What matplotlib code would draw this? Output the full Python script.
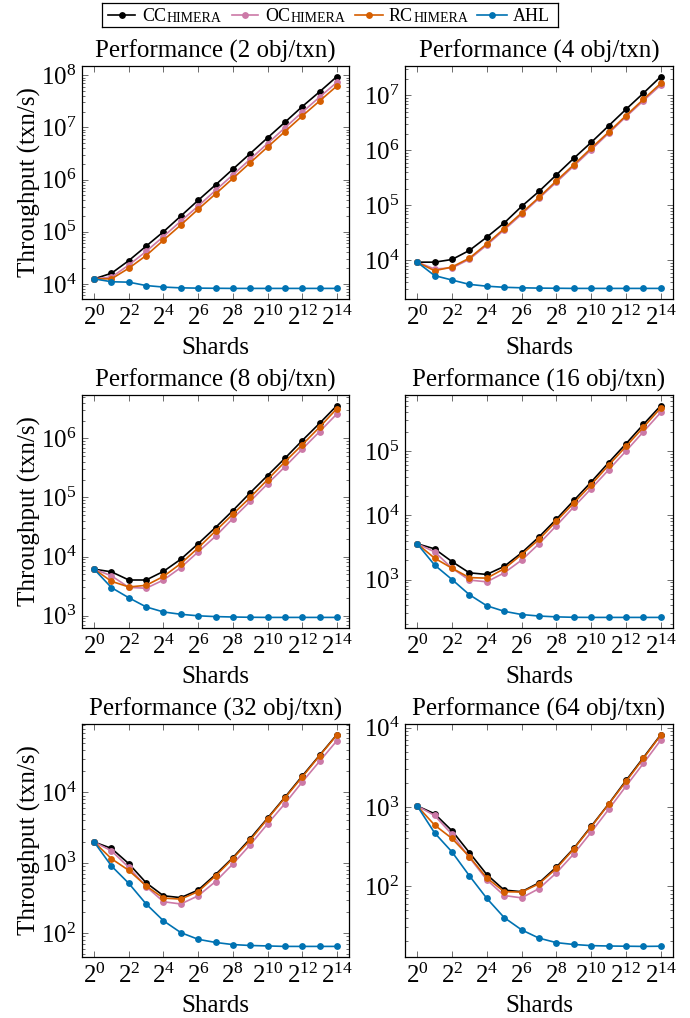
import numpy as np
import matplotlib
matplotlib.use("Agg")
import matplotlib.pyplot as plt
from matplotlib.ticker import FixedLocator, LogLocator, NullFormatter, FuncFormatter, NullLocator

plt.rcParams['font.family'] = ['Liberation Serif', 'DejaVu Serif']
plt.rcParams['mathtext.fontset'] = 'stix'

# ---------------- data ----------------
shard_exponents = list(range(15))
shards = [2 ** e for e in shard_exponents]
objs_per_txn = [2, 4, 8, 16, 32, 64]
series_names = ['CChimera', 'OChimera', 'RChimera', 'AHL']
series_colors = ['#000000', '#CC79A7', '#D55E00', '#0072B2']

cchimera_2 = [1.25e4, 1.6e4, 2.8e4, 5.3e4, 1.0e5, 2.0e5, 4.0e5, 7.9e5, 1.58e6, 3.15e6, 6.3e6, 1.25e7, 2.5e7, 4.8e7, 9.4e7]
ochimera_2 = [1.25e4, 1.35e4, 2.3e4, 4.2e4, 8.1e4, 1.6e5, 3.1e5, 6.2e5, 1.23e6, 2.45e6, 4.9e6, 9.8e6, 1.95e7, 3.8e7, 7.3e7]
rchimera_2 = [1.25e4, 1.25e4, 2.0e4, 3.5e4, 6.9e4, 1.35e5, 2.7e5, 5.3e5, 1.05e6, 2.1e6, 4.2e6, 8.3e6, 1.65e7, 3.2e7, 6.2e7]
ahl_2 = [1.25e4, 1.1e4, 1.08e4, 9.3e3, 8.7e3, 8.4e3, 8.3e3, 8.25e3, 8.2e3, 8.2e3, 8.2e3, 8.2e3, 8.2e3, 8.2e3, 8.2e3]

cchimera_4 = [9.3e3, 9.3e3, 1.04e4, 1.52e4, 2.65e4, 4.8e4, 9.6e4, 1.8e5, 3.6e5, 7.2e5, 1.4e6, 2.8e6, 5.6e6, 1.1e7, 2.2e7]
ochimera_4 = [9.3e3, 7.0e3, 7.3e3, 1.05e4, 1.9e4, 3.6e4, 6.9e4, 1.35e5, 2.65e5, 5.2e5, 1.03e6, 2.05e6, 4.1e6, 8.0e6, 1.55e7]
rchimera_4 = [9.3e3, 6.5e3, 7.6e3, 1.1e4, 2.0e4, 3.8e4, 7.3e4, 1.4e5, 2.8e5, 5.5e5, 1.1e6, 2.15e6, 4.3e6, 8.5e6, 1.66e7]
ahl_4 = [9.3e3, 5.3e3, 4.4e3, 3.67e3, 3.4e3, 3.25e3, 3.18e3, 3.14e3, 3.12e3, 3.1e3, 3.1e3, 3.1e3, 3.1e3, 3.1e3, 3.1e3]

cchimera_8 = [6.1e3, 5.5e3, 4.0e3, 4.0e3, 5.6e3, 9.0e3, 1.65e4, 3.1e4, 6.0e4, 1.2e5, 2.35e5, 4.6e5, 9.2e5, 1.8e6, 3.6e6]
ochimera_8 = [6.1e3, 4.7e3, 3.0e3, 2.9e3, 4.0e3, 6.5e3, 1.2e4, 2.2e4, 4.4e4, 8.6e4, 1.7e5, 3.3e5, 6.6e5, 1.3e6, 2.6e6]
rchimera_8 = [6.1e3, 3.8e3, 3.05e3, 3.25e3, 4.6e3, 7.6e3, 1.4e4, 2.7e4, 5.2e4, 1.0e5, 2.0e5, 4.0e5, 7.8e5, 1.55e6, 3.2e6]
ahl_8 = [6.1e3, 2.97e3, 2.0e3, 1.4e3, 1.15e3, 1.05e3, 9.9e2, 9.6e2, 9.45e2, 9.35e2, 9.3e2, 9.3e2, 9.3e2, 9.3e2, 9.3e2]

cchimera_16 = [3.6e3, 3.0e3, 1.9e3, 1.27e3, 1.2e3, 1.6e3, 2.6e3, 4.6e3, 8.7e3, 1.7e4, 3.3e4, 6.6e4, 1.3e5, 2.6e5, 5.1e5]
ochimera_16 = [3.6e3, 2.7e3, 1.5e3, 9.8e2, 9.2e2, 1.27e3, 2.0e3, 3.6e3, 6.9e3, 1.35e4, 2.6e4, 5.1e4, 1.0e5, 2.0e5, 4.0e5]
rchimera_16 = [3.6e3, 2.15e3, 1.5e3, 1.07e3, 1.05e3, 1.47e3, 2.45e3, 4.2e3, 8.1e3, 1.55e4, 3.0e4, 6.0e4, 1.18e5, 2.35e5, 4.7e5]
ahl_16 = [3.6e3, 1.68e3, 1.0e3, 5.8e2, 3.9e2, 3.2e2, 2.85e2, 2.7e2, 2.62e2, 2.58e2, 2.57e2, 2.57e2, 2.57e2, 2.57e2, 2.57e2]

cchimera_32 = [1.97e3, 1.6e3, 9.7e2, 5.2e2, 3.4e2, 3.2e2, 4.1e2, 6.8e2, 1.18e3, 2.2e3, 4.3e3, 8.5e3, 1.7e4, 3.35e4, 6.6e4]
ochimera_32 = [1.97e3, 1.48e3, 8.6e2, 4.6e2, 2.8e2, 2.6e2, 3.4e2, 5.4e2, 9.6e2, 1.8e3, 3.55e3, 6.9e3, 1.4e4, 2.75e4, 5.4e4]
rchimera_32 = [1.97e3, 1.14e3, 7.8e2, 4.7e2, 3.15e2, 3.05e2, 3.9e2, 6.5e2, 1.15e3, 2.1e3, 4.2e3, 8.3e3, 1.65e4, 3.3e4, 6.5e4]
ahl_32 = [1.97e3, 9.0e2, 5.1e2, 2.6e2, 1.5e2, 1.02e2, 82, 74, 69, 67, 66, 65, 65, 65, 65]

cchimera_64 = [1.03e3, 8.2e2, 5.0e2, 2.65e2, 1.4e2, 89, 85, 1.1e2, 1.74e2, 3.0e2, 5.7e2, 1.09e3, 2.16e3, 4.2e3, 8.2e3]
ochimera_64 = [1.03e3, 7.8e2, 4.5e2, 2.3e2, 1.2e2, 76, 71, 93, 1.47e2, 2.55e2, 4.8e2, 9.3e2, 1.83e3, 3.55e3, 7.0e3]
rchimera_64 = [1.03e3, 5.9e2, 4.0e2, 2.35e2, 1.27e2, 85, 84, 1.07e2, 1.67e2, 2.95e2, 5.6e2, 1.08e3, 2.1e3, 4.1e3, 8.1e3]
ahl_64 = [1.03e3, 4.7e2, 2.7e2, 1.35e2, 70, 40, 28, 22, 19.3, 18.3, 17.7, 17.5, 17.4, 17.3, 17.4]

panel_series = {
    2: [cchimera_2, ochimera_2, rchimera_2, ahl_2],
    4: [cchimera_4, ochimera_4, rchimera_4, ahl_4],
    8: [cchimera_8, ochimera_8, rchimera_8, ahl_8],
    16: [cchimera_16, ochimera_16, rchimera_16, ahl_16],
    32: [cchimera_32, ochimera_32, rchimera_32, ahl_32],
    64: [cchimera_64, ochimera_64, rchimera_64, ahl_64],
}

# ---------------- layout ----------------
W, H = 690, 1018
fig = plt.figure(figsize=(W / 100, H / 100), dpi=100)

col_x = [(82, 349), (405, 673)]
row_y = [(66, 299), (395, 628), (724, 957)]

FS = 18
LW = 1.2
MS = 3.9


def px_rect(x0, x1, y0, y1):
    return [x0 / W, 1 - y1 / H, (x1 - x0) / W, (y1 - y0) / H]


def xfmt(v, pos):
    e = int(round(np.log2(v)))
    return r'$\mathdefault{2^{%d}}$' % e


for i, n in enumerate(objs_per_txn):
    r, c = divmod(i, 2)
    ax = fig.add_axes(px_rect(col_x[c][0], col_x[c][1], row_y[r][0], row_y[r][1]))
    data = panel_series[n]
    for vals, name, col in zip(data, series_names, series_colors):
        ax.plot(shards, vals, color=col, lw=LW, marker='o', ms=MS, mec=col, mfc=col, label=name)
    ax.set_xscale('log', base=2)
    ax.set_yscale('log')
    allv = np.log10(np.concatenate([np.asarray(v, float) for v in data]))
    lo, hi = allv.min(), allv.max()
    pad = 0.05 * (hi - lo)
    ax.set_ylim(10 ** (lo - pad), 10 ** (hi + pad))
    xlo, xhi = shard_exponents[0], shard_exponents[-1]
    xpad = 0.05 * (xhi - xlo)
    ax.set_xlim(2 ** (xlo - xpad), 2 ** (xhi + xpad))
    ax.xaxis.set_major_locator(FixedLocator([2 ** e for e in shard_exponents if e % 2 == 0]))
    ax.xaxis.set_major_formatter(FuncFormatter(xfmt))
    ax.xaxis.set_minor_locator(NullLocator())
    ax.yaxis.set_major_locator(LogLocator(base=10, numticks=20))
    ax.yaxis.set_minor_locator(LogLocator(base=10, subs=np.arange(2, 10), numticks=20))
    ax.yaxis.set_minor_formatter(NullFormatter())
    ax.tick_params(which='both', direction='in', top=True, right=True, colors='#555555', labelcolor='black', width=0.6)
    ax.tick_params(which='major', length=4, labelsize=FS, pad=4)
    ax.tick_params(which='minor', length=2.2)
    ax.tick_params(axis='x', which='major', pad=5)
    for s in ax.spines.values():
        s.set_linewidth(0.9)
    ax.set_title(f'Performance ({n} obj/txn)', fontsize=FS, pad=6)
    ax.set_xlabel('Shards', fontsize=FS, labelpad=5)
    if c == 0:
        ax.set_ylabel('Throughput (txn/s)', fontsize=FS, labelpad=0)

# ---------------- legend (manual, for small caps) ----------------
lax = fig.add_axes(px_rect(102, 558, 3, 27))
lax.set_xlim(102, 558)
lax.set_ylim(27, 3)
lax.set_xticks([])
lax.set_yticks([])
for s in lax.spines.values():
    s.set_linewidth(0.9)
line_spans = [(108, 135), (232, 258), (355, 383), (477, 507)]
text_starts = [142, 265, 389, 513]
legend_big = ['CC', 'OC', 'RC', 'AHL']
legend_small = ['HIMERA', 'HIMERA', 'HIMERA', '']
ymid = 15
for (x0, x1), tx, big, small, col in zip(line_spans, text_starts, legend_big, legend_small, series_colors):
    lax.plot([x0, x1], [ymid, ymid], color=col, lw=LW)
    lax.plot([(x0 + x1) / 2], [ymid], 'o', color=col, ms=MS)
    t1 = lax.text(tx, ymid + 6, big, fontsize=13, va='baseline', ha='left')
    if small:
        lax.annotate(small, xy=(1, 0), xycoords=t1, xytext=(0.3, 0), textcoords='offset points',
                     fontsize=10, va='bottom', ha='left')

fig.savefig('out.png', dpi=100)
